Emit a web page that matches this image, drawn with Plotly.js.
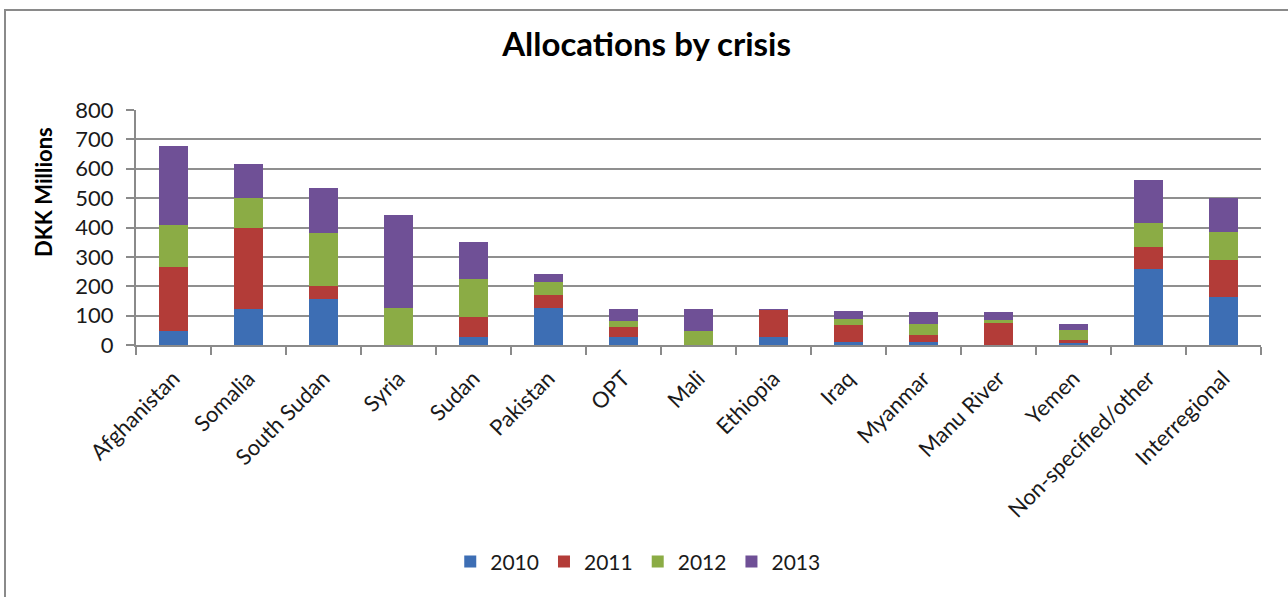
<!DOCTYPE html>
<html>
<head>
<meta charset="utf-8">
<script src="https://cdn.plot.ly/plotly-3.0.1.min.js"></script>
<style>
  html, body { margin: 0; padding: 0; background: #fff; }
  #wrap { position: relative; width: 1288px; height: 597px; overflow: hidden; }
  #chart { position: absolute; left: 0; top: 0; width: 1288px; height: 597px; }
  #frame { position: absolute; left: 4px; top: 9px; width: 1300px; height: 620px;
           border-left: 2px solid #8a8a8a; border-top: 2px solid #8a8a8a; pointer-events: none; }
</style>
</head>
<body>
<div id="wrap">
  <div id="chart"></div>
  <div id="frame"></div>
</div>
<script>
const categories = ["Afghanistan", "Somalia", "South Sudan", "Syria", "Sudan", "Pakistan", "OPT", "Mali",
  "Ethiopia", "Iraq", "Myanmar", "Manu River", "Yemen", "Non-specified/other", "Interregional"];
const years = ["2010", "2011", "2012", "2013"];
const values2010 = [47, 121, 157, 0, 28, 127, 28, 0, 28, 11, 11, 0, 7, 258, 165];
const values2011 = [220, 277, 43, 0, 67, 43, 32, 0, 90, 58, 22, 74, 9, 74, 123];
const values2012 = [143, 101, 180, 126, 131, 43, 23, 47, 0, 21, 40, 12, 35, 82, 96];
const values2013 = [269, 118, 153, 315, 124, 28, 38, 74, 3, 27, 40, 27, 22, 147, 116];
const yAxisTitle = "DKK Millions";
const colors = ["#3D6EB4", "#B33C38", "#8BAC45", "#6F5096"];

const series = [values2010, values2011, values2012, values2013];
const traces = series.map((v, i) => ({
  type: "bar",
  name: years[i],
  x: categories,
  y: v,
  marker: { color: colors[i], line: { width: 0 } },
  hoverinfo: "x+y+name"
}));

const font = "Lato, 'Liberation Sans', sans-serif";
const layout = {
  width: 1288, height: 597,
  margin: { l: 136, r: 27, t: 110, b: 252, pad: 0, autoexpand: false },
  paper_bgcolor: "#ffffff", plot_bgcolor: "#ffffff",
  barmode: "stack",
  bargap: 0.61,
  title: { text: "<b>Allocations by crisis</b>", x: 0.502, xanchor: "center", y: 0.925, yanchor: "middle",
           font: { family: font, size: 33, color: "#000" } },
  font: { family: font, color: "#000" },
  xaxis: {
    type: "category",
    tickangle: -45,
    tickfont: { family: font, size: 22, color: "#1a1a1a" },
    ticklabelstandoff: 10,
    ticks: "outside", tickson: "boundaries", ticklen: 8, tickcolor: "#8a8a8a", tickwidth: 2,
    showline: true, linecolor: "#8a8a8a", linewidth: 2,
    showgrid: false, zeroline: false, automargin: false
  },
  yaxis: {
    range: [0, 800], dtick: 100, tick0: 0,
    tickfont: { family: font, size: 22, color: "#1a1a1a" },
    ticklabelstandoff: 8,
    ticks: "outside", ticklen: 8, tickcolor: "#8a8a8a", tickwidth: 2,
    showline: true, linecolor: "#8a8a8a", linewidth: 2,
    showgrid: true, gridcolor: "#8f8f8f", gridwidth: 2,
    zeroline: false, automargin: false
  },
  annotations: [{
    text: "<b>" + yAxisTitle + "</b>", textangle: -90, showarrow: false,
    xref: "paper", yref: "paper", x: -0.0827, y: 0.651, xanchor: "center", yanchor: "middle",
    font: { family: font, size: 22, color: "#000" }
  }],
  legend: {
    orientation: "h", x: 0.446, xanchor: "center", y: -0.923, yanchor: "middle",
    font: { family: font, size: 21, color: "#1a1a1a" },
    traceorder: "normal", itemwidth: 30
  },
  showlegend: true
};

Plotly.newPlot("chart", traces, layout, { staticPlot: true, displayModeBar: false });
</script>
</body>
</html>
